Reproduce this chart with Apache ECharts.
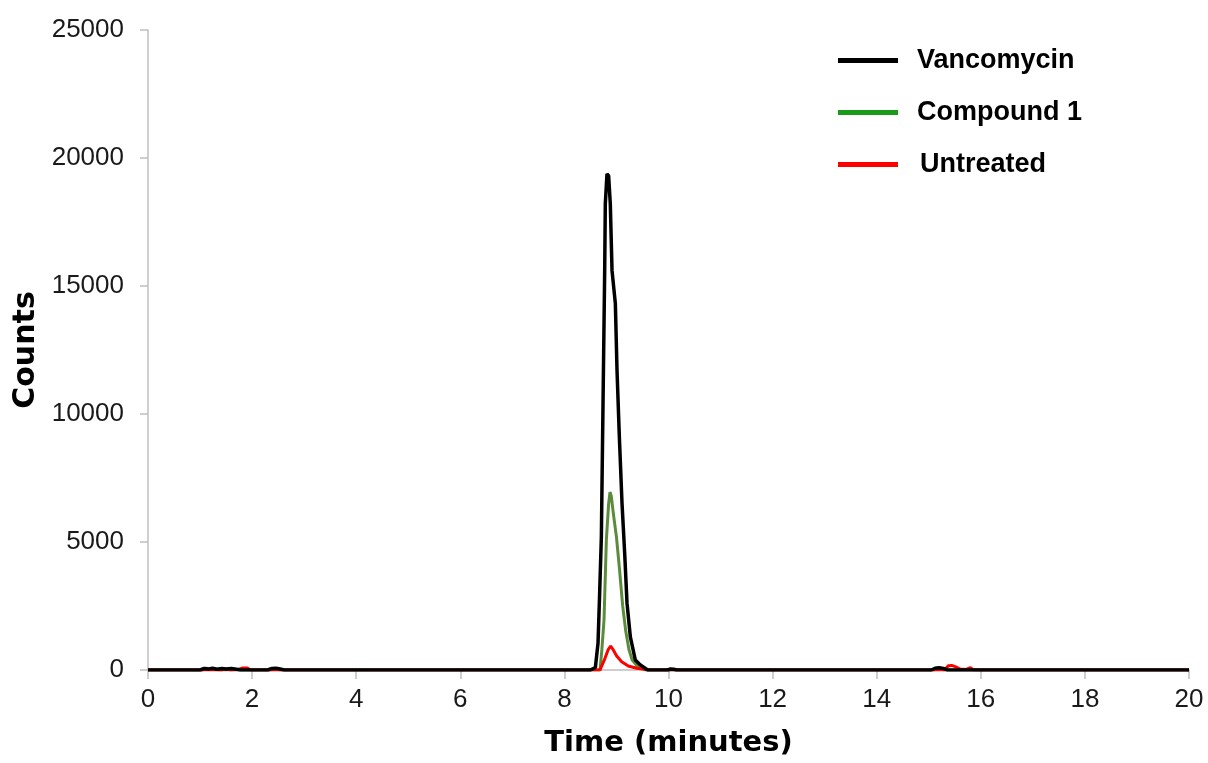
<!DOCTYPE html>
<html>
<head>
<meta charset="utf-8">
<script src="https://cdn.jsdelivr.net/npm/echarts@6/dist/echarts.min.js"></script>
<style>html,body{margin:0;padding:0;background:#fff;}#c{width:1208px;height:763px;}</style>
</head>
<body>
<div id="c"></div>
<script>
// Vancomycin (black)
var vancoTime   = [0, 1.0, 1.08, 1.16, 1.24, 1.32, 1.42, 1.5, 1.6, 1.7, 1.78, 2.3, 2.38, 2.46, 2.54, 2.62, 8.5, 8.595, 8.646, 8.671, 8.71, 8.742, 8.774, 8.786, 8.818, 8.85, 8.882, 8.915, 8.979, 9.011, 9.056, 9.107, 9.158, 9.203, 9.267, 9.363, 9.459, 9.6, 9.98, 10.04, 10.1, 10.16, 15.05, 15.12, 15.2, 15.28, 15.36, 20];
var vancoCounts = [0, 0, 60, 40, 70, 30, 60, 40, 60, 30, 0, 0, 60, 70, 40, 0, 0, 100, 1050, 2610, 5190, 10410, 15600, 18210, 19380, 19300, 18210, 15600, 14310, 11700, 9090, 6510, 4560, 2610, 1290, 390, 200, 0, 0, 40, 30, 0, 0, 70, 90, 60, 0, 0];
// Compound 1 (green)
var compTime   = [0, 1.05, 1.12, 1.2, 1.28, 1.36, 2.35, 2.45, 2.55, 8.6, 8.684, 8.72, 8.761, 8.806, 8.85, 8.876, 8.9, 8.94, 9.0, 9.06, 9.12, 9.18, 9.24, 9.3, 9.4, 9.55, 15.1, 15.2, 15.3, 20];
var compCounts = [0, 0, 70, 30, 60, 0, 0, 40, 0, 0, 0, 800, 1950, 5070, 6500, 6950, 6800, 6120, 5200, 3900, 2500, 1500, 800, 400, 150, 0, 0, 60, 0, 0];
// Untreated (red)
var untrTime   = [0, 1.4, 1.5, 1.6, 1.75, 1.82, 1.9, 1.98, 8.6, 8.684, 8.78, 8.844, 8.889, 8.94, 9.004, 9.1, 9.228, 9.389, 9.645, 15.3, 15.38, 15.44, 15.52, 15.6, 15.72, 15.8, 15.86, 20];
var untrCounts = [0, 0, 40, 0, 30, 80, 80, 0, 0, 0, 456, 807, 936, 780, 546, 325, 156, 66, 0, 0, 170, 180, 120, 40, 20, 90, 0, 0];

var xTicks = {min: 0, max: 20, interval: 2};
var yTicks = {min: 0, max: 25000, interval: 5000};

function pairs(t, v) { return t.map(function (x, i) { return [x, v[i]]; }); }

var chart = echarts.init(document.getElementById('c'), null, {renderer: 'canvas'});
var axisGrey = '#bfbfbf';
chart.setOption({
  animation: false,
  backgroundColor: '#ffffff',
  grid: {left: 148, right: 19, top: 30, bottom: 93, containLabel: false, outerBoundsMode: 'none'},
  legend: {
    orient: 'vertical',
    left: 838,
    top: 47,
    padding: 0,
    itemWidth: 60,
    itemHeight: 5,
    itemGap: 25,
    icon: 'rect',
    textStyle: {fontFamily: 'Liberation Sans', fontWeight: 'bold', fontSize: 27, color: '#000', lineHeight: 26, padding: [0, 0, 0, 14]},
    data: [
      {name: 'Vancomycin', itemStyle: {color: '#000000'}},
      {name: 'Compound 1', itemStyle: {color: '#1a9a1a'}},
      {name: 'Untreated', itemStyle: {color: '#ff0000'}, textStyle: {padding: [0, 0, 0, 17]}}
    ]
  },
  xAxis: {
    type: 'value',
    min: xTicks.min, max: xTicks.max, interval: xTicks.interval,
    name: 'Time (minutes)',
    nameLocation: 'middle',
    nameGap: 59,
    nameTextStyle: {fontFamily: 'DejaVu Sans', fontWeight: 'bold', fontSize: 29, color: '#000'},
    axisLine: {show: true, lineStyle: {color: axisGrey, width: 1.5}},
    axisTick: {show: true, length: 9, lineStyle: {color: axisGrey, width: 1.5}},
    axisLabel: {margin: 17, fontFamily: 'Liberation Sans', fontSize: 26, color: '#1a1a1a'},
    splitLine: {show: false}
  },
  yAxis: {
    type: 'value',
    min: yTicks.min, max: yTicks.max, interval: yTicks.interval,
    name: 'Counts',
    nameLocation: 'middle',
    nameGap: 93,
    nameTextStyle: {fontFamily: 'DejaVu Sans', fontWeight: 'bold', fontSize: 30, color: '#000'},
    axisLine: {show: true, lineStyle: {color: axisGrey, width: 1.5}},
    axisTick: {show: true, length: 8, lineStyle: {color: axisGrey, width: 1.5}},
    axisLabel: {margin: 24, fontFamily: 'Liberation Sans', fontSize: 26, color: '#1a1a1a', formatter: function (v) { return String(v); }},
    splitLine: {show: false}
  },
  series: [
    {name: 'Compound 1', type: 'line', data: pairs(compTime, compCounts), showSymbol: false, symbol: 'none', lineStyle: {color: '#5b8c3c', width: 3}, itemStyle: {color: '#5b8c3c'}, z: 2},
    {name: 'Untreated', type: 'line', data: pairs(untrTime, untrCounts), showSymbol: false, symbol: 'none', lineStyle: {color: '#ff0000', width: 3}, itemStyle: {color: '#ff0000'}, z: 3},
    {name: 'Vancomycin', type: 'line', data: pairs(vancoTime, vancoCounts), showSymbol: false, symbol: 'none', lineStyle: {color: '#000000', width: 3.5}, itemStyle: {color: '#000000'}, z: 4}
  ]
});
</script>
</body>
</html>
